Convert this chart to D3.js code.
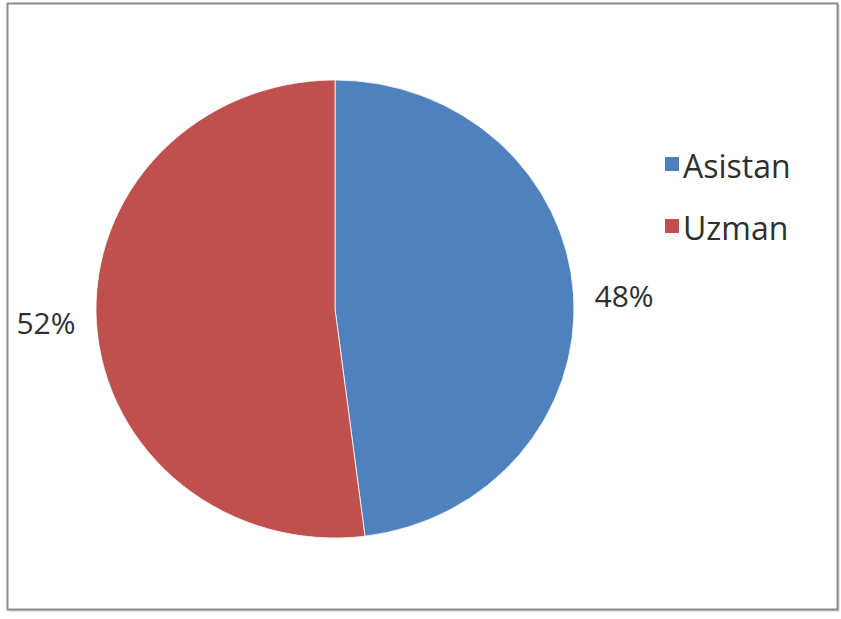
<!DOCTYPE html>
<html>
<head>
<meta charset="utf-8">
<script src="https://cdn.jsdelivr.net/npm/d3@7"></script>
<style>
  html, body { margin: 0; padding: 0; background: #fff; }
  svg { display: block; }
  text { font-family: "Open Sans", "Noto Sans", sans-serif; fill: #2f2f2f; }
</style>
</head>
<body>
<svg id="chart" width="841" height="619"></svg>
<script>
// Staff composition
const categories = ["Asistan", "Uzman"];
const values = [48, 52];
const colors = ["#4F81BD", "#C0504D"];

const svg = d3.select("#chart");

// Chart frame with a soft shadow line
svg.append("rect")
  .attr("x", 9.5).attr("y", 5.5)
  .attr("width", 829).attr("height", 605)
  .attr("fill", "none")
  .attr("stroke", "#d0d0d0")
  .attr("stroke-width", 2);
svg.append("rect")
  .attr("x", 7.5).attr("y", 3.5)
  .attr("width", 830).attr("height", 606)
  .attr("fill", "#fff")
  .attr("stroke", "#8c8c8c")
  .attr("stroke-width", 2);

const cx = 335, cy = 309, rx = 239, ry = 229;

const pie = d3.pie().sort(null).value(d => d.value);
const arcs = pie(categories.map((c, i) => ({ name: c, value: values[i] })));
const arc = d3.arc().innerRadius(0).outerRadius(rx);

const g = svg.append("g")
  .attr("transform", `translate(${cx},${cy}) scale(1,${ry / rx})`);

g.selectAll("path")
  .data(arcs)
  .enter().append("path")
  .attr("d", arc)
  .attr("fill", (d, i) => colors[i])
  .attr("stroke", "#fff")
  .attr("stroke-width", 0.8);

// Percentage labels just outside the slices, anchored away from the pie
const total = d3.sum(values);
const gap = 21;
arcs.forEach(d => {
  const mid = (d.startAngle + d.endAngle) / 2;
  const right = Math.sin(mid) > 0;
  const lx = cx + Math.sin(mid) * (rx + gap);
  const ly = cy - Math.cos(mid) * (rx + 58) * 0.75;
  svg.append("text")
    .attr("x", lx)
    .attr("y", ly)
    .attr("text-anchor", right ? "start" : "end")
    .attr("dominant-baseline", "central")
    .attr("font-size", 30)
    .text(Math.round(d.value / total * 100) + "%");
});

// Legend
const legend = svg.append("g").attr("transform", "translate(665,164)");
categories.forEach((c, i) => {
  const row = legend.append("g").attr("transform", `translate(0,${i * 62})`);
  row.append("rect")
    .attr("x", 0).attr("y", -7)
    .attr("width", 14).attr("height", 14)
    .attr("fill", colors[i]);
  row.append("text")
    .attr("x", 18).attr("y", 1)
    .attr("dominant-baseline", "central")
    .attr("font-size", 32)
    .text(c);
});
</script>
</body>
</html>
